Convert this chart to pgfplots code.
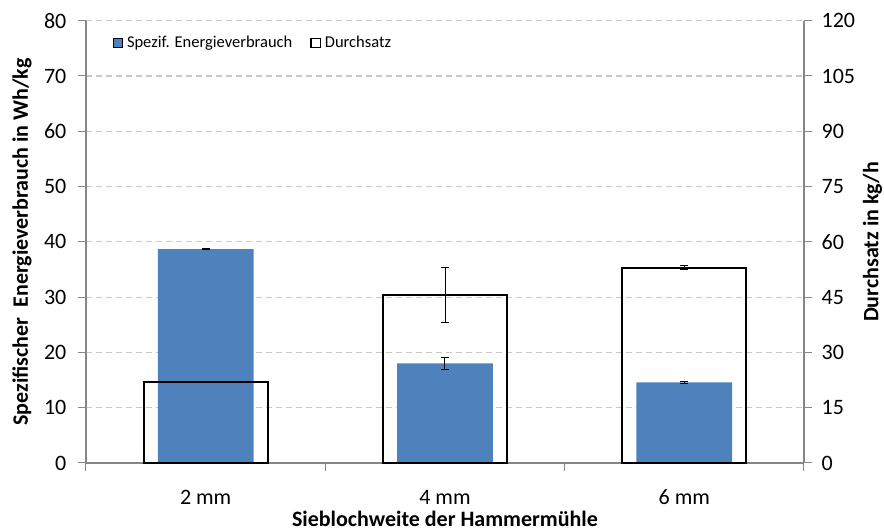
\documentclass[border=0pt]{standalone}
\usepackage{fontspec}
\setmainfont{Carlito}
\usepackage{pgfplots}
\pgfplotsset{compat=1.18}
\definecolor{barblue}{RGB}{79,129,189}
\definecolor{axgray}{RGB}{134,134,134}
\definecolor{gridgray}{RGB}{200,200,200}
\begin{document}
\begin{tikzpicture}
\useasboundingbox (-43pt,-33.5pt) rectangle (399pt,231.5pt);
\pgfplotsset{
  common/.style={
    scale only axis, width=359pt, height=221.15pt,
    xmin=-0.5, xmax=2.5, ymin=0,
    tick align=outside,
    major tick length=4pt,
    tick style={axgray, line width=0.5pt},
    ticklabel style={font=\fontsize{11}{13}\selectfont},
    /pgf/number format/assume math mode=true,
    axis line style={-, axgray, line width=0.6pt},
    label style={font=\bfseries\fontsize{11}{13}\selectfont},
  }
}
\begin{axis}[common,
  axis y line*=left, axis x line*=bottom,
  ymax=80, ytick={0,10,...,80},
  yticklabel style={xshift=-2.3pt},
  ymajorgrids, grid style={gridgray, dash pattern=on 3pt off 2pt, line width=0.6pt},
  xtick={-0.5,0.5,1.5,2.5}, xticklabels={},
  extra x ticks={0,1,2}, extra x tick labels={2 mm,4 mm,6 mm},
  extra x tick style={major tick length=0pt, xticklabel style={yshift=-10pt}},
  ylabel={Spezifischer~ Energieverbrauch in Wh/kg},
  ylabel style={at={(axis description cs:-0.0891,0.5)}, anchor=center},
  xlabel={Sieblochweite der Hammermühle},
  xlabel style={at={(axis description cs:0.5,-0.126)}, anchor=center},
]
\addplot[ybar, bar width=0.4, bar shift=0pt, fill=barblue, draw=none,
  error bars/.cd, y dir=both, y explicit,
  error bar style={black, line width=0.5pt},
  error mark options={rotate=90, black, mark size=2pt, line width=0.5pt}]
  coordinates {(0,38.7) +- (0,0.15) (1,18.0) +- (0,1.1) (2,14.6) +- (0,0.2)};
\end{axis}
\begin{axis}[common,
  axis y line*=right, axis x line=none, clip=false,
  ymax=120, ytick={0,15,...,120},
  yticklabel style={xshift=1.3pt},
  ylabel={Durchsatz in kg/h},
  ylabel style={at={(axis description cs:1.0955,0.5)}, anchor=center},
  legend style={at={(rel axis cs:0.028,0.95)}, anchor=west, draw=none, fill=none,
    font=\fontsize{8.25}{10}\selectfont, legend columns=2,
    /tikz/every even column/.append style={column sep=7pt}},
  legend cell align=left,
  legend image code/.code={\draw[#1, line width=0.65pt] (0pt,-2.3pt) rectangle (4.6pt,2.3pt);},
]
\addlegendimage{fill=barblue, draw=none}
\addlegendentry{Spezif. Energieverbrauch}
\addplot[ybar, bar width=0.518, bar shift=0pt, draw=black, fill=none, line width=1.1pt,
  error bars/.cd, y dir=both, y explicit,
  error bar style={black, line width=0.5pt},
  error mark options={rotate=90, black, mark size=2pt, line width=0.5pt}]
  coordinates {(0,22.0) +- (0,0) (1,45.6) +- (0,7.4) (2,53.0) +- (0,0.5)};
\addlegendentry{Durchsatz}
\end{axis}
\end{tikzpicture}
\end{document}
